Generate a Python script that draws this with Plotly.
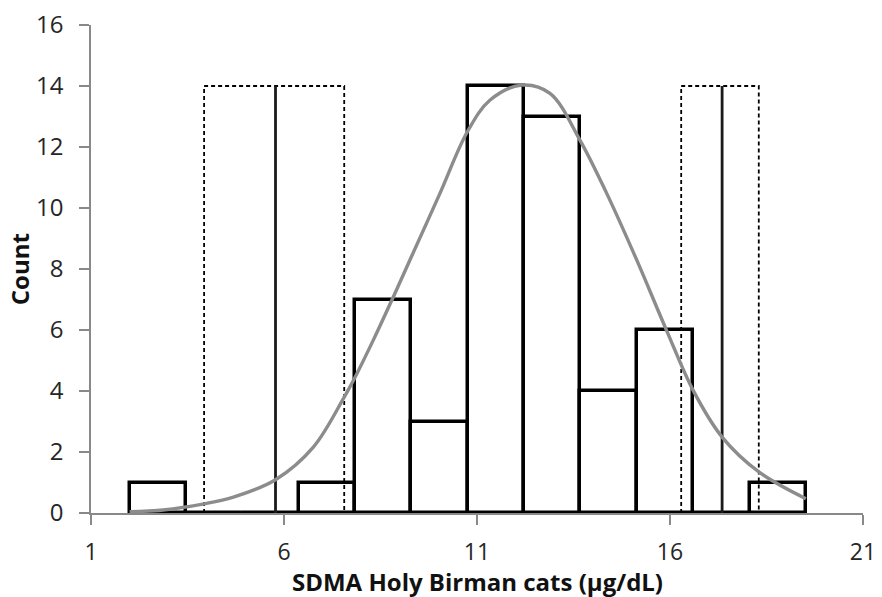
import plotly.graph_objects as go

# ---- data ----
bin_edges = [2.0, 3.46, 4.92, 6.38, 7.84, 9.30, 10.76, 12.22, 13.68, 15.14, 16.60, 18.06, 19.52]
counts = [1, 0, 0, 1, 7, 3, 14, 13, 4, 6, 0, 1]

ri_limits = [5.78, 17.35]          # reference interval limits (solid lines)
ri_ci_low = [3.93, 16.29]          # CI of limits (dashed boxes)
ri_ci_high = [7.56, 18.30]
ri_line_top = 14

curve_x = [2.0, 2.87, 3.93, 4.69, 5.78, 6.76, 7.56, 7.80, 8.31, 8.79, 9.30, 10.04,
           10.75, 11.34, 12.16, 12.89, 13.67, 14.36, 15.14, 15.91, 16.60, 17.35, 18.31, 19.52]
curve_y = [0.04, 0.10, 0.30, 0.52, 1.09, 2.16, 3.80, 4.35, 5.66, 6.97, 8.40, 10.48,
           12.50, 13.54, 14.03, 13.76, 12.22, 10.48, 8.29, 5.99, 4.02, 2.49, 1.34, 0.47]

x_ticks = [1, 6, 11, 16, 21]
y_ticks = [0, 2, 4, 6, 8, 10, 12, 14, 16]

x_title = "SDMA Holy Birman cats (µg/dL)"
y_title = "Count"

# ---- figure ----
centers = [(a + b) / 2 for a, b in zip(bin_edges[:-1], bin_edges[1:])]
widths = [b - a for a, b in zip(bin_edges[:-1], bin_edges[1:])]

fig = go.Figure()

fig.add_trace(go.Bar(
    x=centers, y=counts, width=widths,
    marker=dict(color="white", line=dict(color="black", width=3.5)),
    cliponaxis=False, showlegend=False, hoverinfo="skip",
))

# baseline of histogram (zero-count bins drawn as a thick line)
fig.add_trace(go.Scatter(
    x=[bin_edges[0], bin_edges[-1]], y=[0, 0], mode="lines",
    line=dict(color="black", width=3.5), cliponaxis=False, showlegend=False,
))

# dashed CI boxes
for lo, hi in zip(ri_ci_low, ri_ci_high):
    fig.add_trace(go.Scatter(
        x=[lo, lo, hi, hi], y=[0, ri_line_top, ri_line_top, 0], mode="lines",
        line=dict(color="black", width=1.8, dash="4px,3px"),
        cliponaxis=False, showlegend=False,
    ))

# solid RI limit lines
for v in ri_limits:
    fig.add_trace(go.Scatter(
        x=[v, v], y=[0, ri_line_top], mode="lines",
        line=dict(color="#1a1a1a", width=2.8), cliponaxis=False, showlegend=False,
    ))

# normal curve
fig.add_trace(go.Scatter(
    x=curve_x, y=curve_y, mode="lines",
    line=dict(color="#8c8c8c", width=3.4, shape="spline", smoothing=1.0),
    cliponaxis=False, showlegend=False,
))

x_tick_font = dict(family="Open Sans", size=23, color="#262626")
y_tick_font = dict(family="Open Sans", size=24, color="#262626")
title_font = dict(family="Open Sans", size=24, color="#111111")

fig.update_layout(
    width=882, height=597,
    margin=dict(l=91, r=19, t=25, b=84, pad=0),
    plot_bgcolor="white", paper_bgcolor="white",
    bargap=0,
    xaxis=dict(
        range=[1, 21], tickvals=x_ticks, ticktext=[str(t) for t in x_ticks],
        showgrid=False, zeroline=False, showline=True, linecolor="#898989", linewidth=1.5,
        ticks="outside", ticklen=10, tickwidth=1.5, tickcolor="#898989",
        tickfont=x_tick_font, ticklabelstandoff=8, automargin=False,
    ),
    yaxis=dict(
        range=[0, 16], tickvals=y_ticks, ticktext=[str(t) for t in y_ticks],
        showgrid=False, zeroline=False, showline=True, linecolor="#898989", linewidth=1.5,
        ticks="outside", ticklen=10, tickwidth=1.5, tickcolor="#898989",
        tickfont=y_tick_font, ticklabelstandoff=11, automargin=False,
    ),
    annotations=[
        dict(text="<b>" + x_title + "</b>", xref="paper", yref="paper",
             x=0.5, y=-0.1405, xanchor="center", yanchor="middle",
             showarrow=False, font=title_font),
        dict(text="<b>" + y_title + "</b>", xref="paper", yref="paper",
             x=-0.093, y=0.5, xanchor="center", yanchor="middle", textangle=-90,
             showarrow=False, font=title_font),
    ],
)

fig.write_html("out.html", config={"displayModeBar": False},
               post_script="document.body.style.margin='0';")
